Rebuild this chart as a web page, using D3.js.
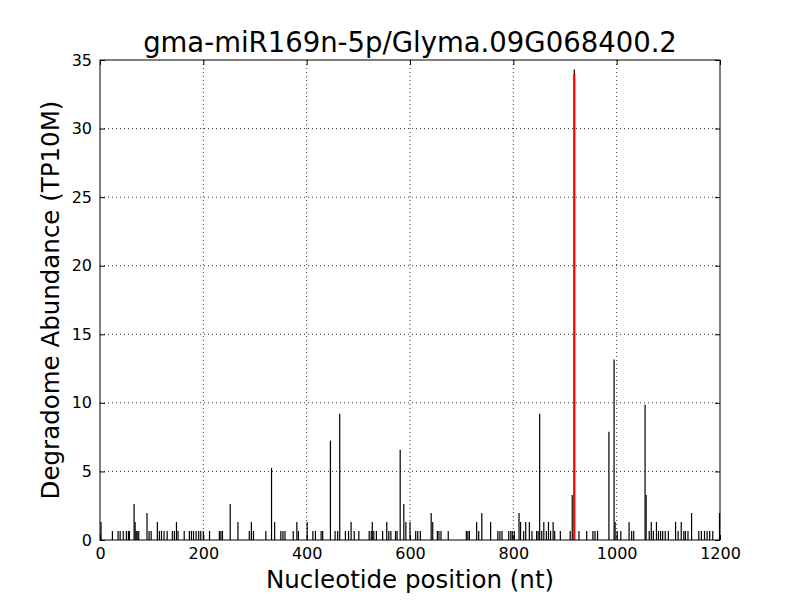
<!DOCTYPE html>
<html>
<head>
<meta charset="utf-8">
<script src="https://cdn.jsdelivr.net/npm/d3@7"></script>
<style>
  body { margin: 0; background: #fff; }
  svg { font-family: "DejaVu Sans", sans-serif; }
  .grid line { stroke: #000; stroke-dasharray: 1,3; stroke-width: 0.8; }
</style>
</head>
<body>
<div id="chart"></div>
<script>
// ---------------- DATA ----------------
const chartTitle = "gma-miR169n-5p/Glyma.09G068400.2";
const xTicks = [0, 200, 400, 600, 800, 1000, 1200];
const yTicks = [0, 5, 10, 15, 20, 25, 30, 35];

// degradome reads: nucleotide position / abundance (TP10M)
const positions = [2, 24, 35, 39, 45, 51, 55, 57, 66, 68, 70, 72, 75, 91, 95, 99, 111, 115, 119, 124,
  130, 140, 144, 148, 151, 163, 173, 177, 181, 186, 191, 195, 200, 212, 231, 234, 237, 252, 267, 289,
  293, 297, 321, 332, 338, 350, 354, 358, 374, 381, 384, 401, 412, 417, 428, 431, 446, 455, 460, 464,
  475, 481, 486, 492, 501, 521, 525, 527, 530, 535, 547, 555, 559, 563, 572, 575, 581, 588, 592, 600,
  611, 615, 620, 641, 644, 653, 656, 660, 674, 709, 712, 715, 729, 733, 739, 756, 770, 774, 778, 791,
  795, 798, 802, 811, 814, 820, 824, 831, 836, 845, 848, 851, 855, 859, 864, 868, 872, 877, 880, 891,
  910, 914, 918, 927, 942, 954, 958, 963, 985, 995, 997, 1001, 1008, 1024, 1029, 1033, 1055, 1057, 1063, 1067,
  1071, 1077, 1081, 1085, 1089, 1094, 1100, 1114, 1119, 1125, 1130, 1133, 1138, 1145, 1159, 1164, 1170, 1175,
  1180, 1186, 1199];
const abundance = [1.32, 0.66, 0.66, 0.66, 0.66, 0.66, 0.66, 0.66, 2.63, 1.32, 0.66, 0.66, 0.66, 1.97, 0.66, 0.66, 1.32, 0.66, 0.66, 0.66,
  0.66, 0.66, 0.66, 1.32, 0.66, 0.66, 0.66, 0.66, 0.66, 0.66, 0.66, 0.66, 0.66, 0.66, 0.66, 0.66, 0.66, 2.63, 1.32, 0.66,
  1.32, 0.66, 0.66, 5.26, 1.32, 0.66, 0.66, 0.66, 0.66, 1.32, 0.66, 1.32, 0.66, 0.66, 0.66, 0.66, 7.24, 0.66, 0.66, 9.21,
  0.66, 0.66, 1.32, 0.66, 0.66, 0.66, 0.66, 1.32, 0.66, 0.66, 0.66, 1.32, 0.66, 0.66, 0.66, 0.66, 6.58, 2.63, 1.32, 1.32,
  0.66, 0.66, 0.66, 1.97, 1.32, 0.66, 0.66, 0.66, 0.66, 0.66, 0.66, 0.66, 1.32, 0.66, 1.97, 1.32, 0.66, 0.66, 0.66, 0.66,
  0.66, 0.66, 0.66, 1.97, 1.32, 0.66, 1.32, 1.32, 0.66, 0.66, 0.66, 9.21, 0.66, 1.32, 0.66, 1.32, 0.66, 1.32, 0.66, 0.66,
  0.66, 3.29, 34.3, 0.66, 0.66, 0.66, 0.66, 0.66, 7.9, 13.16, 1.32, 0.66, 0.66, 1.32, 0.66, 0.66, 9.87, 3.29, 0.66, 1.32,
  0.66, 1.32, 0.66, 0.66, 0.66, 0.66, 0.66, 1.32, 0.66, 1.32, 0.66, 0.66, 0.66, 1.97, 0.66, 0.66, 0.66, 0.66,
  0.66, 0.66, 1.97];

// cleavage site highlighted in red
const sitePosition = 918;
const siteAbundance = 34.0;

// ---------------- SPACE SETUP ----------------
const W = 800, H = 600;
const margin = { top: 60, right: 80, bottom: 60, left: 100 };
const width = W - margin.left - margin.right;
const height = H - margin.top - margin.bottom;

const x = d3.scaleLinear().domain([0, 1200]).range([0, width]);
const y = d3.scaleLinear().domain([0, 35]).range([height, 0]);

const svg = d3.select("#chart").append("svg")
  .attr("width", W).attr("height", H);

const g = svg.append("g")
  .attr("transform", `translate(${margin.left},${margin.top})`);

// ---------------- GRID ----------------
g.append("g").attr("class", "grid")
  .selectAll("line").data(xTicks.slice(1, -1)).enter().append("line")
  .attr("x1", d => x(d)).attr("x2", d => x(d))
  .attr("y1", 0).attr("y2", height);

g.append("g").attr("class", "grid")
  .selectAll("line").data(yTicks.slice(1, -1)).enter().append("line")
  .attr("x1", 0).attr("x2", width)
  .attr("y1", d => y(d)).attr("y2", d => y(d));

// ---------------- BARS ----------------
const reads = positions.map((p, i) => ({ pos: p, val: abundance[i] }));

g.append("g").selectAll("line").data(reads).enter().append("line")
  .attr("x1", d => x(d.pos)).attr("x2", d => x(d.pos))
  .attr("y1", y(0)).attr("y2", d => y(d.val))
  .attr("stroke", "#000").attr("stroke-width", 1.2);

g.append("line")
  .attr("x1", x(sitePosition)).attr("x2", x(sitePosition))
  .attr("y1", y(0)).attr("y2", y(siteAbundance))
  .attr("stroke", "#ff0000").attr("stroke-width", 2.2);

// ---------------- AXES ----------------
const tickLen = 5;
const fmt = d3.format("d");
g.append("g")
  .attr("transform", `translate(0,${height})`)
  .call(d3.axisBottom(x).tickValues(xTicks).tickFormat(fmt).tickSizeInner(-tickLen).tickSizeOuter(0).tickPadding(8));
g.append("g")
  .call(d3.axisLeft(y).tickValues(yTicks).tickFormat(fmt).tickSizeInner(-tickLen).tickSizeOuter(0).tickPadding(8));
g.append("g")
  .call(d3.axisTop(x).tickValues(xTicks).tickSizeInner(-tickLen).tickSizeOuter(0).tickFormat(""));
g.append("g")
  .attr("transform", `translate(${width},0)`)
  .call(d3.axisRight(y).tickValues(yTicks).tickSizeInner(-tickLen).tickSizeOuter(0).tickFormat(""));

svg.selectAll(".domain").remove();
svg.selectAll(".tick line").attr("stroke", "#000");
svg.selectAll(".tick text")
  .attr("fill", "#000")
  .style("font-size", "16px")
  .style("font-family", "DejaVu Sans, sans-serif");

g.append("rect")
  .attr("width", width).attr("height", height)
  .attr("fill", "none").attr("stroke", "#000").attr("stroke-width", 1);

// ---------------- LABELS ----------------
svg.append("text")
  .attr("x", margin.left + width / 2).attr("y", 52)
  .attr("text-anchor", "middle")
  .style("font-size", "27.5px")
  .text(chartTitle);

svg.append("text")
  .attr("x", margin.left + width / 2).attr("y", 588)
  .attr("text-anchor", "middle")
  .style("font-size", "24.5px")
  .text("Nucleotide position (nt)");

svg.append("text")
  .attr("transform", `translate(59,${margin.top + height / 2}) rotate(-90)`)
  .attr("text-anchor", "middle")
  .style("font-size", "24.5px")
  .text("Degradome Abundance (TP10M)");
</script>
</body>
</html>
